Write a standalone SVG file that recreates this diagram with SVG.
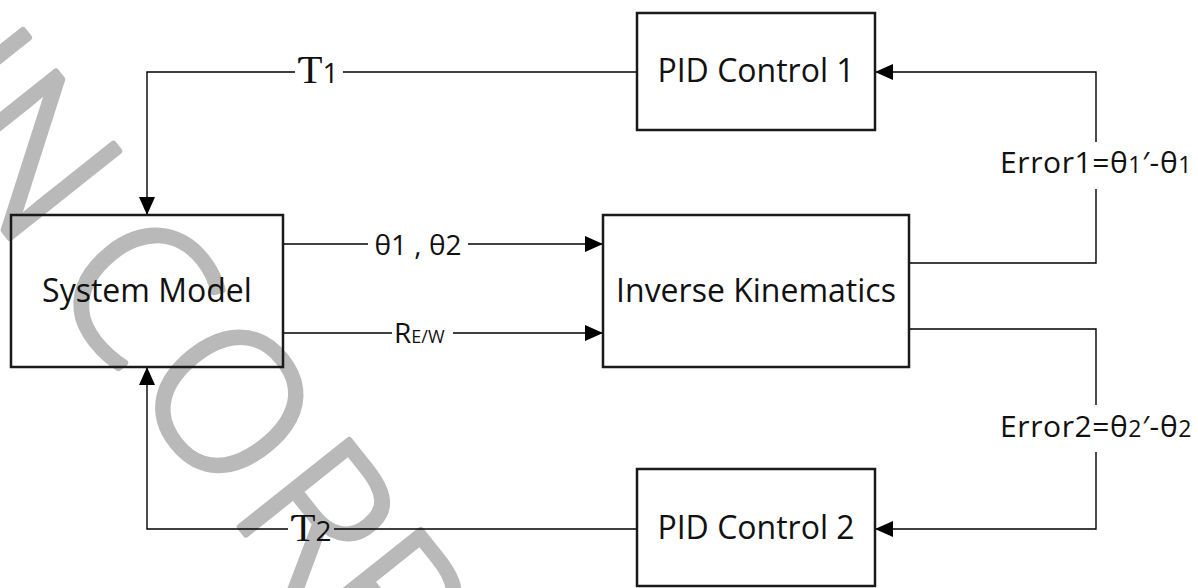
<svg xmlns="http://www.w3.org/2000/svg" width="1198" height="588" viewBox="0 0 1198 588">
<style>
  .box{fill:none;stroke:#1a1a1a;stroke-width:2.5}
  .lbl{font-family:"Open Sans","Liberation Sans",sans-serif;fill:#111}
  .node{font-size:32px;text-anchor:middle}
  .edge{font-size:28px}
  .conn path{fill:none;stroke:#000;stroke-width:1.4}
  .wm{font-family:"Open Sans","Liberation Sans",sans-serif;font-weight:300;font-size:196px;fill:#b9b9b9;stroke:#b9b9b9;stroke-width:6;stroke-linejoin:round}
  .tau{font-family:"Liberation Serif","DejaVu Serif",serif}
</style>
<defs>
  <marker id="arr" markerUnits="userSpaceOnUse" markerWidth="18" markerHeight="16" refX="18" refY="8" orient="auto">
    <path d="M0,0 L18,8 L0,16 z" fill="#000"/>
  </marker>
</defs>
<rect width="1198" height="588" fill="#fff"/>
<g id="watermark" transform="translate(17,247) rotate(51.5)">
  <text class="wm" x="-186 -133 46 178 338 453" y="0">INCORR</text>
</g>
<g id="connectors" class="conn">
  <path d="M637,72 H343"/>
  <path d="M295,72 H147 V215" marker-end="url(#arr)"/>
  <path d="M637,529 H334"/>
  <path d="M288,529 H147 V367" marker-end="url(#arr)"/>
  <path d="M283,244 H368"/>
  <path d="M468,244 H603" marker-end="url(#arr)"/>
  <path d="M283,333 H392"/>
  <path d="M453,333 H603" marker-end="url(#arr)"/>
  <path d="M909,263 H1096 V189"/>
  <path d="M1096,142 V72 H875" marker-end="url(#arr)"/>
  <path d="M909,329 H1096 V405"/>
  <path d="M1096,452 V529 H875" marker-end="url(#arr)"/>
</g>
<g id="labels" class="lbl edge">
  <text id="lbl-tau1" x="298" y="83"><tspan class="tau" font-size="40">Ƭ</tspan><tspan>1</tspan></text>
  <text id="lbl-tau2" x="291" y="541"><tspan class="tau" font-size="40">Ƭ</tspan><tspan>2</tspan></text>
  <text id="lbl-theta" x="418" y="255" text-anchor="middle">θ1 , θ2</text>
  <text id="lbl-rew" x="394" y="343"><tspan>R</tspan><tspan font-size="18">E/W</tspan></text>
  <text id="lbl-err1" x="1096" y="173" text-anchor="middle" font-size="30" letter-spacing="0.6">Error1=θ<tspan font-size="23">1</tspan>′-θ<tspan font-size="23">1</tspan></text>
  <text id="lbl-err2" x="1096" y="437" text-anchor="middle" font-size="30" letter-spacing="0.6">Error2=θ<tspan font-size="23">2</tspan>′-θ<tspan font-size="23">2</tspan></text>
</g>
<g id="system-model">
  <rect class="box" x="11" y="215" width="272" height="152"/>
  <text class="lbl node" x="147" y="302">System Model</text>
</g>
<g id="inverse-kinematics">
  <rect class="box" x="603" y="215" width="306" height="152"/>
  <text class="lbl node" x="756" y="302">Inverse Kinematics</text>
</g>
<g id="pid-control-1">
  <rect class="box" x="637" y="13" width="238" height="117"/>
  <text class="lbl node" x="756" y="82">PID Control 1</text>
</g>
<g id="pid-control-2">
  <rect class="box" x="637" y="469" width="238" height="117"/>
  <text class="lbl node" x="756" y="539">PID Control 2</text>
</g>
</svg>
